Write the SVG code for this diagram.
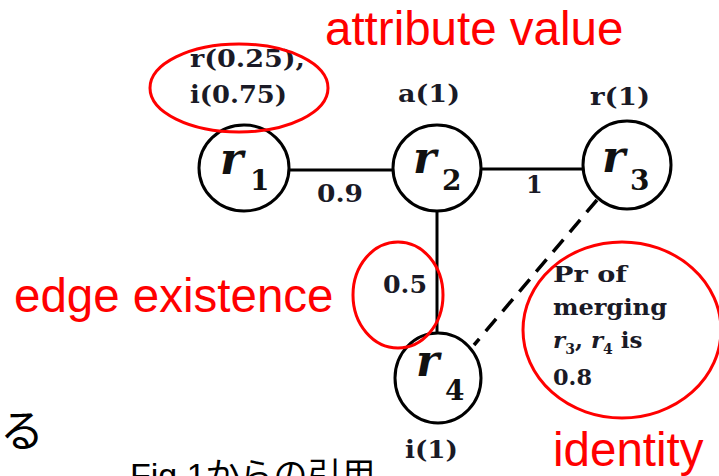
<svg xmlns="http://www.w3.org/2000/svg" width="719" height="476" viewBox="0 0 719 476">
<style>
.node{fill:#fff;stroke:#000;stroke-width:3}
.edge{stroke:#000;stroke-width:3;fill:none}
.dash{stroke:#000;stroke-width:3.5;fill:none;stroke-dasharray:16 10}
.lbl{font-family:"DejaVu Serif","Liberation Serif",serif;font-weight:bold;font-size:24px;fill:#1a1a26}
.pr{font-family:"DejaVu Serif","Liberation Serif",serif;font-weight:bold;font-size:23px;fill:#1a1a26}
.rv{font-family:"DejaVu Serif","Liberation Serif",serif;font-style:italic;font-weight:bold;font-size:44px;fill:#111}
.sub{font-family:"DejaVu Serif","Liberation Serif",serif;font-weight:bold;font-size:28px;fill:#111}
.note{fill:none;stroke:#ff0000;stroke-width:3}
.red{font-family:"Liberation Sans",Arial,sans-serif;font-size:47.5px;fill:#ff0000}
.jp{font-family:"Liberation Sans","Noto Sans CJK JP",sans-serif;fill:#000}
</style>
<g id="connectors">
<line class="edge" x1="289" y1="170" x2="393" y2="170"/>
<line class="edge" x1="481" y1="169" x2="583" y2="169"/>
<line class="edge" x1="437" y1="212" x2="437" y2="334"/>
<line class="dash" x1="597" y1="200" x2="474" y2="345"/>
<text class="lbl" x="317" y="202" textLength="46" lengthAdjust="spacingAndGlyphs">0.9</text>
<text class="lbl" x="526" y="193">1</text>
<text class="lbl" x="383" y="293" textLength="44" lengthAdjust="spacingAndGlyphs">0.5</text>
</g>
<g id="r1">
<ellipse class="node" cx="244" cy="168" rx="45" ry="43"/>
<text class="rv" x="220" y="174">r</text><text class="sub" x="250" y="190">1</text>
<text class="lbl" x="190" y="67" textLength="115" lengthAdjust="spacingAndGlyphs">r(0.25),</text>
<text class="lbl" x="190" y="103" textLength="97" lengthAdjust="spacingAndGlyphs">i(0.75)</text>
</g>
<g id="r2">
<ellipse class="node" cx="437" cy="168" rx="44" ry="43"/>
<text class="rv" x="413" y="173">r</text><text class="sub" x="442" y="190">2</text>
<text class="lbl" x="398" y="102" textLength="62" lengthAdjust="spacingAndGlyphs">a(1)</text>
</g>
<g id="r3">
<ellipse class="node" cx="627" cy="165" rx="44" ry="44"/>
<text class="rv" x="602" y="172">r</text><text class="sub" x="630" y="190">3</text>
<text class="lbl" x="590" y="105" textLength="60" lengthAdjust="spacingAndGlyphs">r(1)</text>
</g>
<g id="r4">
<ellipse class="node" cx="438" cy="378" rx="43" ry="45"/>
<text class="rv" x="416" y="376">r</text><text class="sub" x="445" y="400">4</text>
<text class="lbl" x="405" y="458" textLength="53" lengthAdjust="spacingAndGlyphs">i(1)</text>
</g>
<g id="merge-note">
<text class="pr" x="553" y="282" textLength="74" lengthAdjust="spacingAndGlyphs">Pr of</text>
<text class="pr" x="553" y="315" textLength="114" lengthAdjust="spacingAndGlyphs">merging</text>
<text class="pr" x="553" y="348"><tspan font-style="italic">r</tspan><tspan font-size="14" dy="6">3</tspan><tspan dy="-6">, </tspan><tspan font-style="italic">r</tspan><tspan font-size="14" dy="6">4</tspan><tspan dy="-6"> is</tspan></text>
<text class="pr" x="553" y="385" textLength="39" lengthAdjust="spacingAndGlyphs">0.8</text>
</g>
<g id="annotations">
<ellipse class="note" cx="239" cy="88" rx="89" ry="44"/>
<ellipse class="note" cx="398" cy="295" rx="45" ry="53"/>
<ellipse class="note" cx="622" cy="330" rx="99" ry="88"/>
<text class="red" x="325" y="45">attribute value</text>
<text class="red" x="14" y="312">edge existence</text>
<text class="red" x="553" y="466">identity</text>
<text class="jp" x="0" y="447" font-size="44">る</text>
<text class="jp" x="130" y="487" font-size="34">Fig.1からの引用</text>
</g>
</svg>
